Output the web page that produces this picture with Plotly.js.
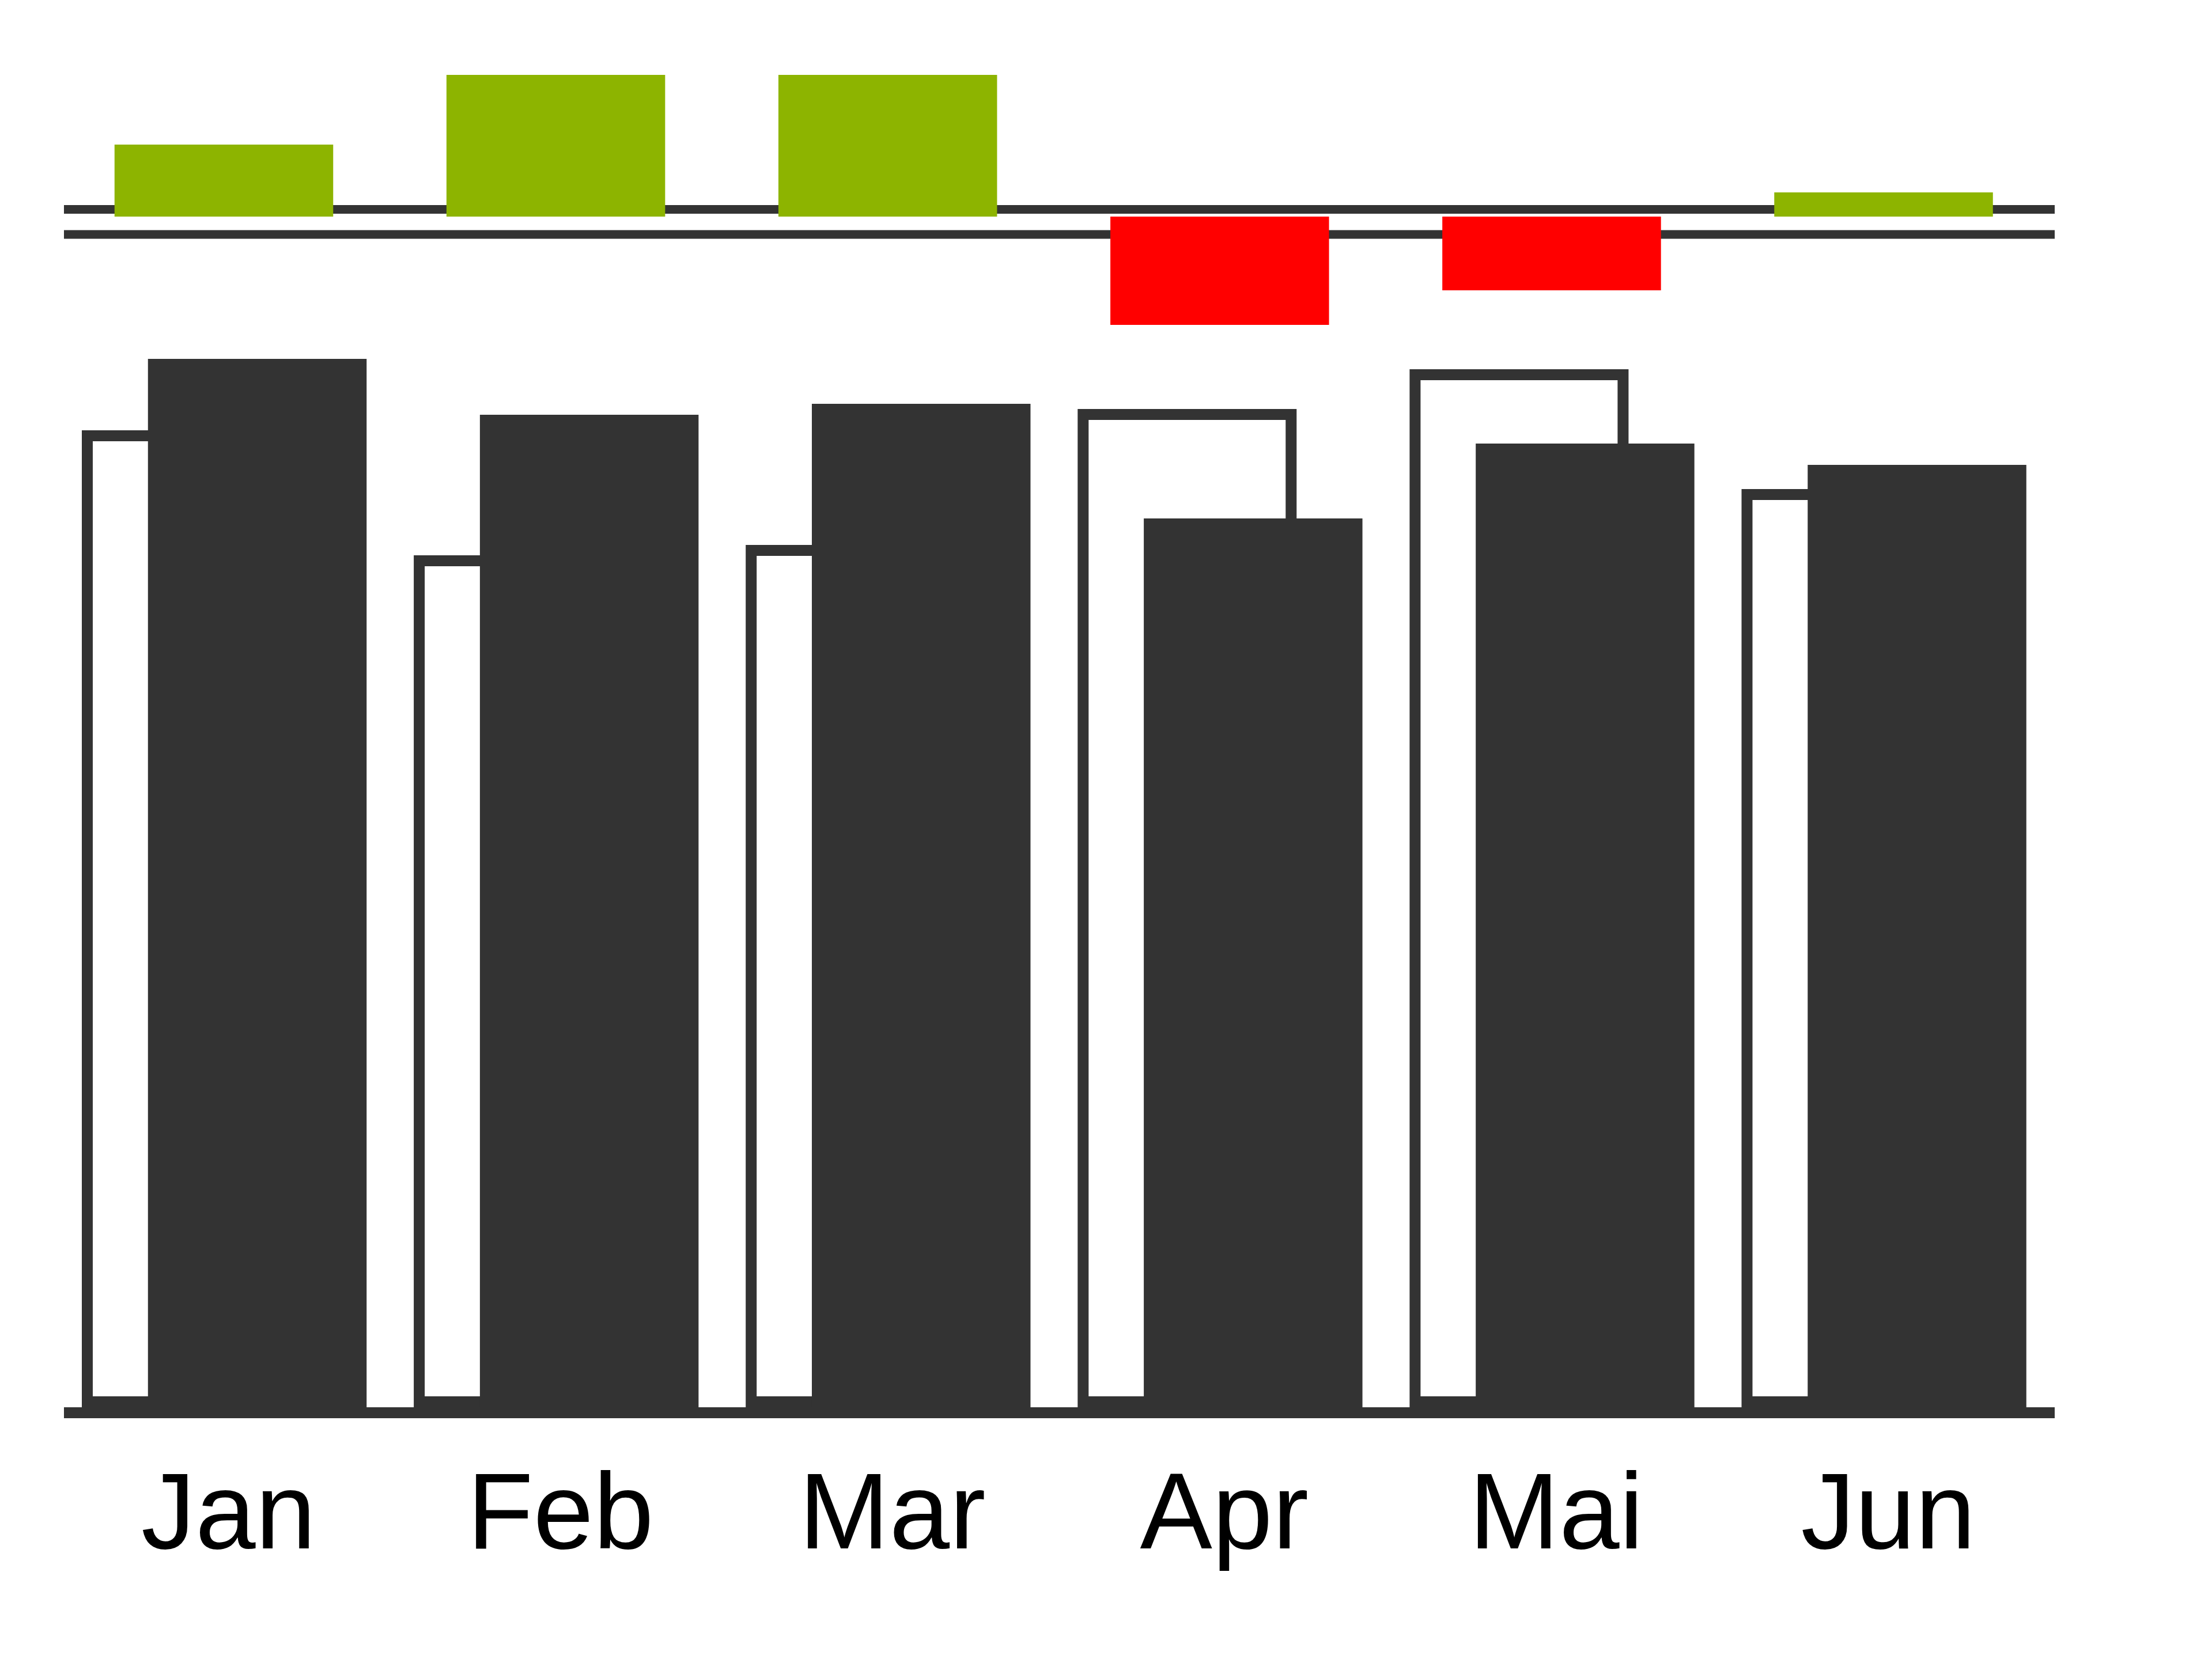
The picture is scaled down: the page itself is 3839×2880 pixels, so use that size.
<!DOCTYPE html>
<html>
<head>
<meta charset="utf-8">
<script src="https://cdn.plot.ly/plotly-3.0.1.min.js"></script>
<style>
  html, body { margin: 0; padding: 0; background: #fff; }
  #chart { width: 3839px; height: 2880px; }
</style>
</head>
<body>
<div id="chart"></div>
<script>
// values (same unit in both panels)
const months = ['Jan', 'Feb', 'Mar', 'Apr', 'Mai', 'Jun'];
const actual = [91.0, 86.15, 87.1, 77.15, 83.65, 81.8];
const previousYear = [84.8, 73.95, 74.85, 86.65, 90.1, 79.7];
const variance = [6.25, 12.3, 12.3, -9.4, -6.4, 2.1];

const dark = '#333333';
const good = '#8db400';
const bad = '#ff0000';

const barWidth = 0.6587;
const pyLine = 19;
// plotly centres the outline on the bar edge, the reference keeps it inside:
// half a line width, in y units (20 px per unit)
const pyInset = pyLine / 2 / 20;

// previous year: white bar with dark outline, shifted left
const pyTrace = {
    type: 'bar',
    x: months,
    y: previousYear.map(v => v - 2 * pyInset),
    base: pyInset,
    xaxis: 'x2',
    yaxis: 'y2',
    width: 0.6266,
    offset: -0.0981 - 0.6266 / 2,
    marker: { color: '#ffffff', line: { color: dark, width: pyLine } },
    hoverinfo: 'skip'
};

// actual: dark filled bar, shifted right, drawn on top
const acTrace = {
    type: 'bar',
    x: months,
    y: actual,
    xaxis: 'x2',
    yaxis: 'y2',
    width: barWidth,
    offset: 0.1007 - barWidth / 2,
    marker: { color: dark, line: { width: 0 } },
    hoverinfo: 'skip'
};

// variance panel on top
const varTrace = {
    type: 'bar',
    x: months,
    y: variance,
    xaxis: 'x',
    yaxis: 'y',
    width: barWidth,
    marker: { color: variance.map(v => v >= 0 ? good : bad), line: { width: 0 } },
    hoverinfo: 'skip'
};

const xRange = [-0.4817, 5.5155];
const xDomain = [0.028914, 0.928888];

const layout = {
    width: 3839,
    height: 2880,
    margin: { l: 0, r: 0, t: 0, b: 0, pad: 0 },
    paper_bgcolor: '#ffffff',
    plot_bgcolor: 'rgba(0,0,0,0)',
    showlegend: false,
    barmode: 'overlay',
    xaxis: {
        domain: xDomain,
        range: xRange,
        anchor: 'y',
        visible: false,
        fixedrange: true
    },
    yaxis: {
        domain: [0.8, 0.980556],
        range: [-10, 16],
        anchor: 'x',
        visible: false,
        fixedrange: true
    },
    xaxis2: {
        domain: xDomain,
        range: xRange,
        anchor: 'y2',
        showline: true,
        linecolor: dark,
        linewidth: 19,
        showgrid: false,
        zeroline: false,
        ticks: '',
        ticklabelshift: 8,
        tickfont: { family: 'Liberation Sans, Arial, sans-serif', size: 188, color: '#000000' },
        fixedrange: true
    },
    yaxis2: {
        domain: [0.151736, 0.79410],
        range: [0, 92.5],
        anchor: 'x2',
        visible: false,
        fixedrange: true
    },
    // the two thin rules of the variance panel
    shapes: [
        {
            type: 'line', layer: 'below',
            xref: 'x domain', yref: 'y',
            x0: 0, x1: 1, y0: 0.625, y1: 0.625,
            line: { color: dark, width: 15 }
        },
        {
            type: 'line', layer: 'below',
            xref: 'x domain', yref: 'y',
            x0: 0, x1: 1, y0: -1.55, y1: -1.55,
            line: { color: dark, width: 15 }
        }
    ]
};

Plotly.newPlot('chart', [pyTrace, acTrace, varTrace], layout, { staticPlot: true, displayModeBar: false });
</script>
</body>
</html>
